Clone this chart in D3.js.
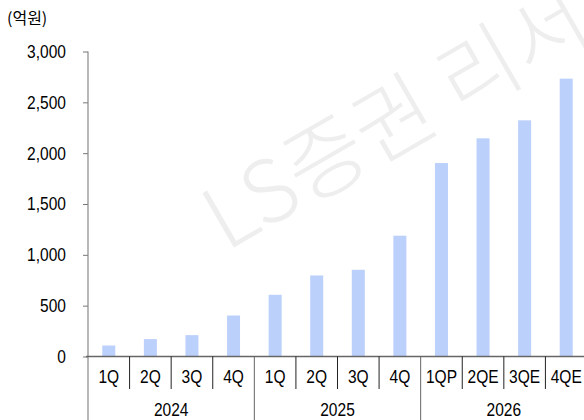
<!DOCTYPE html>
<html><head><meta charset="utf-8">
<script src="https://cdn.jsdelivr.net/npm/d3@7"></script>
<style>body{margin:0;background:#fff}svg{display:block}</style>
</head><body><svg id="c" width="584" height="420"></svg>
<script>
const quarters = ["1Q","2Q","3Q","4Q","1Q","2Q","3Q","4Q","1QP","2QE","3QE","4QE"];
const years = ["2024","2025","2026"];
const values = [108,171,210,403,607,797,853,1188,1903,2146,2323,2733];
const yTicks = [0,500,1000,1500,2000,2500,3000];
const unitLabel = "(억원)";
const watermark = "LS증권 리서치";

const svg = d3.select("#c");
const font = "'Liberation Sans',Arial,sans-serif";
const fs = 18.5;
const sx = 0.84;
const x = d3.scaleBand().domain(d3.range(quarters.length)).range([88,587]).paddingInner(0).paddingOuter(0);
const y = d3.scaleLinear().domain([0,3000]).range([356.5,51.5]);

// watermark
svg.append("text").attr("transform","translate(226,252) rotate(-30)")
  .attr("font-family","'Noto Sans CJK KR',sans-serif").attr("font-weight",300)
  .attr("font-size",86).attr("fill","#eeeeee").text(watermark);

// bars
const bw = 13;
svg.append("g").selectAll("rect").data(values).join("rect")
  .attr("x",(d,i)=>x(i)+x.bandwidth()/2-bw/2).attr("width",bw)
  .attr("y",d=>y(d)).attr("height",d=>y(0)-y(d)).attr("fill","#bbd0fb");

// y axis
const ya = svg.append("g").attr("transform","translate(88,0)")
  .call(d3.axisLeft(y).tickValues(yTicks).tickFormat(d3.format(",")).tickSize(5).tickSizeOuter(0));
ya.select(".domain").remove();
ya.selectAll(".tick line").attr("stroke","#777");
ya.selectAll(".tick text").attr("font-family",font).attr("font-size",fs).attr("fill","#000")
  .attr("x",0).attr("transform",`translate(-22,0) scale(${sx},1)`);
svg.append("line").attr("x1",88).attr("x2",88).attr("y1",y(3000)).attr("y2",420).attr("stroke","#888").attr("stroke-width",1.2);

// x axis baseline
svg.append("line").attr("x1",86).attr("x2",584).attr("y1",y(0)).attr("y2",y(0)).attr("stroke","#666").attr("stroke-width",1.3);

// quarter separators
svg.append("g").selectAll("line").data(d3.range(1,quarters.length).filter(i=>i%4!==0)).join("line")
  .attr("x1",i=>x(i)).attr("x2",i=>x(i)).attr("y1",y(0)).attr("y2",389).attr("stroke","#222").attr("stroke-width",1);
// year separators
svg.append("g").selectAll("line").data([4,8]).join("line")
  .attr("x1",i=>x(i)).attr("x2",i=>x(i)).attr("y1",y(0)).attr("y2",420).attr("stroke","#666").attr("stroke-width",1);

// quarter labels
svg.append("g").selectAll("text").data(quarters).join("text")
  .attr("transform",(d,i)=>`translate(${x(i)+x.bandwidth()/2},377) scale(${sx},1)`).attr("dy","0.35em")
  .attr("text-anchor","middle").attr("font-family",font).attr("font-size",fs).text(d=>d);
// year labels
svg.append("g").selectAll("text").data(years).join("text")
  .attr("transform",(d,i)=>`translate(${(x(i*4)+x(i*4+3)+x.bandwidth())/2},410) scale(${sx},1)`).attr("dy","0.35em")
  .attr("text-anchor","middle").attr("font-family",font).attr("font-size",fs).text(d=>d);

// unit label
svg.append("text").attr("x",7).attr("y",18).attr("dy","0.35em")
  .attr("font-family","'Noto Sans CJK KR',sans-serif").attr("font-size",16).text(unitLabel);
</script></body></html>
